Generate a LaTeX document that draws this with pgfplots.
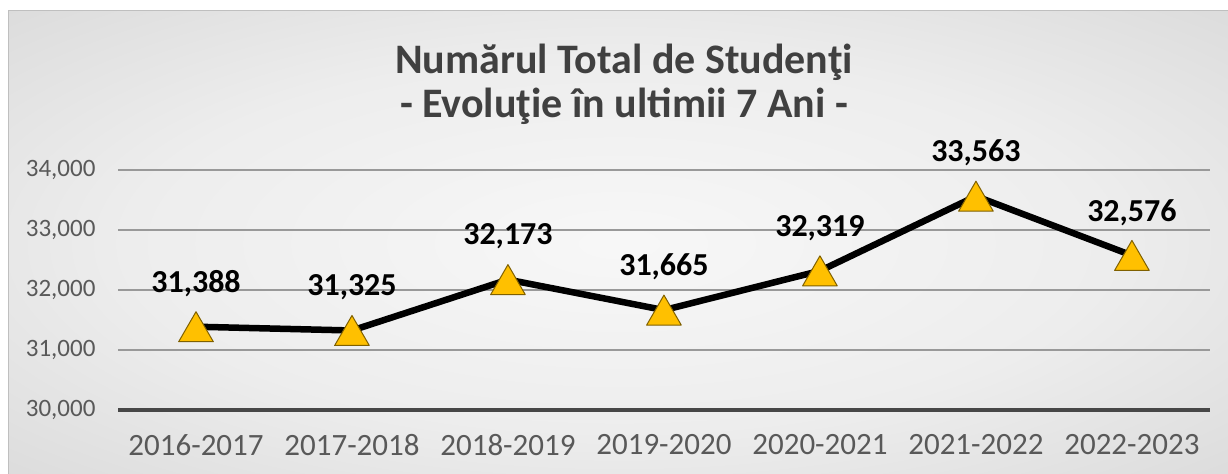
\documentclass[border=0pt]{standalone}
\usepackage{fontspec}
\setmainfont{Carlito}
\usepackage{pgfplots}
\pgfplotsset{compat=1.18}
\definecolor{titlegray}{HTML}{404040}
\definecolor{tickgray}{HTML}{595959}
\definecolor{gold}{HTML}{FFC000}
\definecolor{golddark}{HTML}{7F6000}
\pgfdeclareradialshading{bgshade}{\pgfpoint{0bp}{0bp}}{color(0bp)=(white!97!black); color(20bp)=(white!93!black); color(50bp)=(white!80!black); color(72bp)=(white!75!black)}
\begin{document}
\begin{tikzpicture}[x=1bp,y=1bp]
\useasboundingbox (0,0) rectangle (1228,474);
\fill[white] (0,0) rectangle (1228,474);
\shade[shading=bgshade] (8,-2) rectangle (1230,463);
\draw[black!25, line width=1bp] (8,0) -- (8,463) -- (1228,463);
\node[font=\fontsize{42bp}{48bp}\selectfont\bfseries, text=titlegray] at (624,412) {Numărul Total de Studenţi};
\node[font=\fontsize{42bp}{48bp}\selectfont\bfseries, text=titlegray] at (624,368) {- Evoluţie în ultimii 7 Ani -};
\begin{axis}[
  at={(118bp,64bp)}, anchor=south west, scale only axis,
  width=1092bp, height=240bp,
  xmin=-0.5, xmax=6.5, ymin=30000, ymax=34000,
  clip=false,
  scaled y ticks=false,
  xtick={0,...,6},
  xticklabels={2016-2017,2017-2018,2018-2019,2019-2020,2020-2021,2021-2022,2022-2023},
  ytick={31000,32000,33000,34000},
  yticklabels={31{,}000,32{,}000,33{,}000,34{,}000},
  extra y ticks={30000},
  extra y tick labels={30{,}000},
  extra y tick style={grid style={line width=3.5bp, color=black!72}},
  ymajorgrids,
  grid style={line width=1.2bp, color=black!40},
  axis line style={draw=none},
  major tick length=0pt,
  tick label style={text=tickgray},
  y tick label style={font=\fontsize{25bp}{30bp}\selectfont, anchor=east, xshift=-19bp},
  x tick label style={font=\fontsize{31bp}{36bp}\selectfont, yshift=-21bp},
  /pgf/number format/.cd, 1000 sep={,}, assume math mode=true
]
\addplot[black, line width=6.5bp, line join=round,
  mark=triangle*, mark size=20bp,
  mark options={fill=gold, draw=golddark, line width=1bp, yshift=-5bp},
  nodes near coords,
  nodes near coords style={font=\fontsize{32bp}{38bp}\selectfont\bfseries, text=black, anchor=center, yshift=48bp}]
coordinates {(0,31388) (1,31325) (2,32173) (3,31665) (4,32319) (5,33563) (6,32576)};
\end{axis}
\end{tikzpicture}
\end{document}
